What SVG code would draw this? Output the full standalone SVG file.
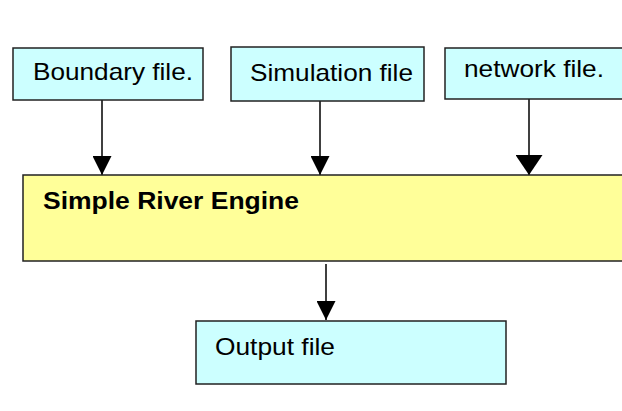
<svg xmlns="http://www.w3.org/2000/svg" width="622" height="411" viewBox="0 0 622 411">
  <style>
    .file { fill: #ccffff; stroke: #222; stroke-width: 1.5; }
    .engine { fill: #ffff99; stroke: #222; stroke-width: 1.5; }
    .lbl { font-family: "Liberation Sans", Arial, sans-serif; font-size: 24px; fill: #000; }
    .bold { font-weight: bold; font-size: 23px; }
    .link { stroke: #000; stroke-width: 1.5; fill: none; }
  </style>
  <defs>
    <marker id="head" viewBox="0 0 10 10" refX="10" refY="5" markerUnits="userSpaceOnUse" markerWidth="19" markerHeight="19" orient="auto">
      <path d="M0,0 L10,5 L0,10 Z" fill="#000"/>
    </marker>
    <marker id="headWide" viewBox="0 0 10 10" refX="10" refY="5" markerUnits="userSpaceOnUse" markerWidth="20" markerHeight="27" orient="auto" preserveAspectRatio="none">
      <path d="M0,0 L10,5 L0,10 Z" fill="#000"/>
    </marker>
  </defs>
  <rect width="622" height="411" fill="#fff"/>

  <g id="connectors">
    <line class="link" x1="102" y1="100" x2="102" y2="175" marker-end="url(#head)"/>
    <line class="link" x1="320" y1="101" x2="320" y2="175" marker-end="url(#head)"/>
    <line class="link" x1="529" y1="99" x2="529" y2="175" marker-end="url(#headWide)"/>
    <line class="link" x1="326" y1="264" x2="326" y2="320" marker-end="url(#head)"/>
  </g>

  <g id="boundary">
    <rect class="file" x="13" y="48" width="190" height="52"/>
    <text class="lbl" x="33" y="80" textLength="160" lengthAdjust="spacingAndGlyphs">Boundary file.</text>
  </g>

  <g id="simulation">
    <rect class="file" x="231" y="47" width="193" height="54"/>
    <text class="lbl" x="250" y="81" textLength="163" lengthAdjust="spacingAndGlyphs">Simulation file</text>
  </g>

  <g id="network">
    <rect class="file" x="445" y="48" width="190" height="51"/>
    <text class="lbl" x="464" y="77" textLength="140" lengthAdjust="spacingAndGlyphs">network file.</text>
  </g>

  <g id="engine">
    <rect class="engine" x="23" y="175" width="615" height="86"/>
    <text class="lbl bold" x="43" y="209" textLength="256" lengthAdjust="spacingAndGlyphs">Simple River Engine</text>
  </g>

  <g id="output">
    <rect class="file" x="196" y="321" width="310" height="63"/>
    <text class="lbl" x="215" y="355" textLength="120" lengthAdjust="spacingAndGlyphs">Output file</text>
  </g>
</svg>
